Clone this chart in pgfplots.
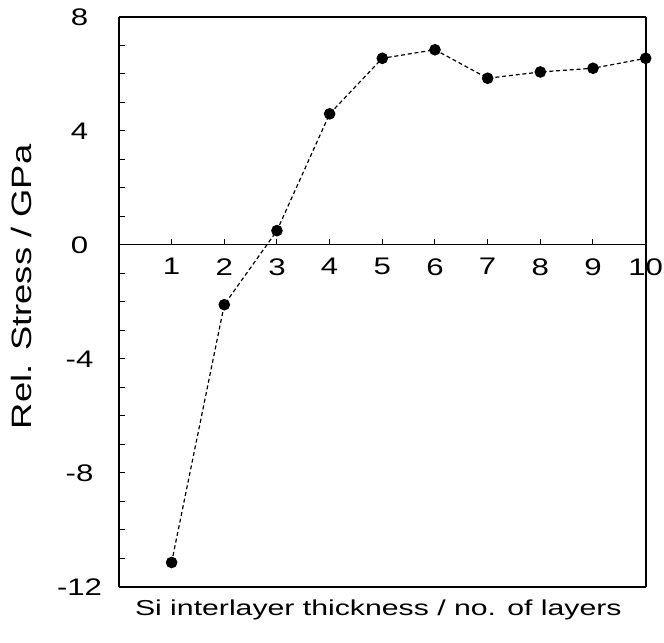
\documentclass[border=0pt]{standalone}
\usepackage{pgfplots}
\pgfplotsset{compat=1.18}
\usepackage{fontspec}
\setmainfont{Liberation Sans}
% the original lettering is wide, so stretch Arial-like glyphs
\newfontfamily\tickfont{Liberation Sans}[FakeStretch=1.3]
\newfontfamily\xlabfont{Liberation Sans}[FakeStretch=1.4]
\newfontfamily\ylabfont{Liberation Sans}[FakeStretch=1.3]
\newcommand{\yl}[1]{\makebox[39pt][c]{#1}}

% stress vs. number of Si layers
\pgfplotstableread{
n  stress
1  -11.15
2  -2.10
3  0.50
4  4.60
5  6.55
6  6.85
7  5.85
8  6.07
9  6.20
10 6.55
}\stressdata

\begin{document}
\begin{tikzpicture}
\begin{axis}[
    name=ax,
    scale only axis,
    width=263.5pt, height=285pt,
    xmin=0, xmax=10, ymin=-12, ymax=8,
    clip=false,
    axis x line=middle,
    axis y line=box,
    hide obscured x ticks=false,
    every inner x axis line/.append style={-, line width=0.6pt},
    y axis line style={line width=0.9pt},
    xtick={1,...,10},
    ytick={-12,-8,-4,0,4,8},
    yticklabels={\yl{-12},\yl{-8},\yl{-4},\yl{0},\yl{4},\yl{8}},
    minor y tick num=3,
    ytick pos=left,
    tick align=inside,
    major tick length=3pt, minor tick length=3pt,
    tick style={black, line width=0.5pt},
    /pgf/number format/assume math mode=true,
    ticklabel style={font=\tickfont\fontsize{12}{14}\selectfont},
    yticklabel style={anchor=east, inner sep=0pt},
    xticklabel style={inner sep=0.5pt, yshift=-6pt},
    xlabel={Si interlayer thickness / no. of layers},
    ylabel={Rel. Stress / GPa},
    every axis x label/.style={at={(rel axis cs:0.5,0)}, anchor=north,
        yshift=-3pt, xshift=-2pt, font=\xlabfont\fontsize{10.8}{13}\selectfont},
    every axis y label/.style={at={([xshift=-48.5pt, yshift=7.5pt]rel axis cs:0,0.5)},
        rotate=90, anchor=center, inner sep=0pt, font=\ylabfont\fontsize{14}{16}\selectfont},
    after end axis/.code={
        \draw[line width=0.9pt] (rel axis cs:0,0) -- (rel axis cs:1,0);
        \draw[line width=0.9pt] (rel axis cs:0,1) -- (rel axis cs:1,1);
    },
]
\addplot[black, line width=0.6pt, dash pattern=on 2pt off 1.4pt,
    mark=*, mark size=2.6pt, mark options={solid, fill=black}]
    table[x=n, y=stress] {\stressdata};
\end{axis}
\path ([xshift=-59.5pt, yshift=-28pt]ax.south west) rectangle ([xshift=9pt, yshift=8.5pt]ax.north east);
\end{tikzpicture}
\end{document}
